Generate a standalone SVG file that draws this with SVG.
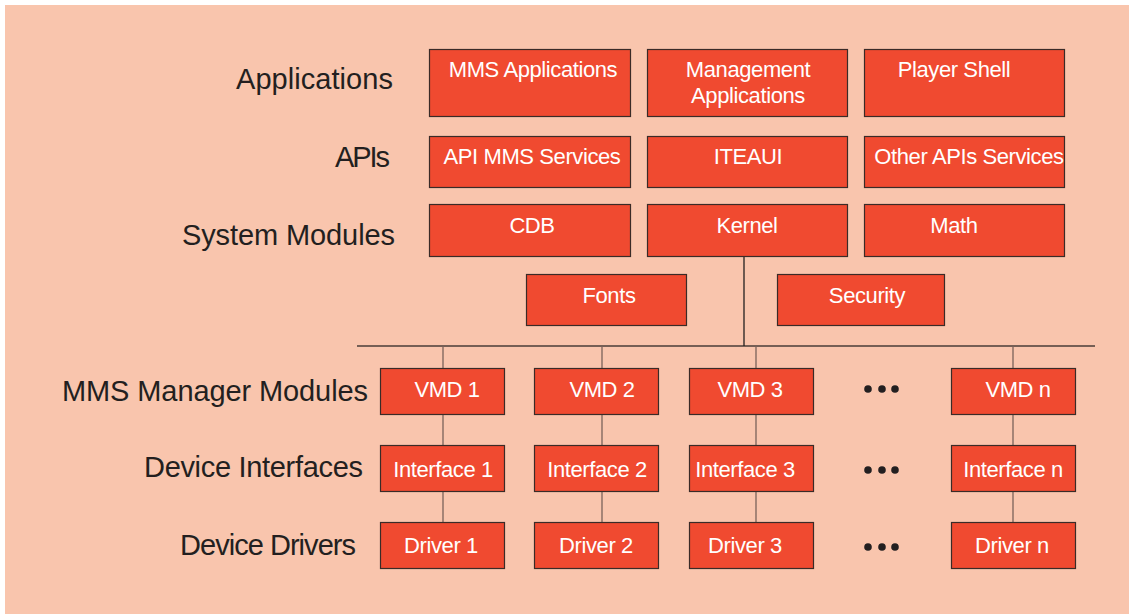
<svg xmlns="http://www.w3.org/2000/svg" width="1129" height="615" viewBox="0 0 1129 615">
<style>
.box{fill:#f04a30;stroke:#3a2b27;stroke-width:1.2}
.bt{fill:#ffffff;font-family:"Liberation Sans",Arial,sans-serif;font-size:22px;text-anchor:middle;letter-spacing:-0.4px}
.lbl{fill:#231f20;font-family:"Liberation Sans",Arial,sans-serif;font-size:29px;text-anchor:end}
.ln{stroke:#7a625a;stroke-width:1.3;fill:none}
.dot{fill:#231f20}
</style>
<rect x="0" y="0" width="1129" height="615" fill="#ffffff"/>
<rect x="5" y="5" width="1124" height="609" fill="#f9c5ad"/>
<g id="labels">
<text class="lbl" x="393" y="89" textLength="157">Applications</text>
<text class="lbl" x="390" y="167" textLength="55">APIs</text>
<text class="lbl" x="395" y="245" textLength="213">System Modules</text>
<text class="lbl" x="368" y="401" textLength="306">MMS Manager Modules</text>
<text class="lbl" x="363" y="477" textLength="219">Device Interfaces</text>
<text class="lbl" x="356" y="555" textLength="176">Device Drivers</text>
</g>
<g id="connectors">
<line class="ln" x1="357" y1="346" x2="1095" y2="346" style="stroke:#4a3d39"/>
<line class="ln" x1="744" y1="257" x2="744" y2="346" style="stroke:#231f20"/>
<line class="ln" x1="443" y1="346" x2="443" y2="368"/>
<line class="ln" x1="602" y1="346" x2="602" y2="368"/>
<line class="ln" x1="756" y1="346" x2="756" y2="368"/>
<line class="ln" x1="1013" y1="346" x2="1013" y2="368"/>
<line class="ln" x1="443" y1="414" x2="443" y2="445"/>
<line class="ln" x1="602" y1="414" x2="602" y2="445"/>
<line class="ln" x1="756" y1="414" x2="756" y2="445"/>
<line class="ln" x1="1013" y1="414" x2="1013" y2="445"/>
<line class="ln" x1="443" y1="492" x2="443" y2="522"/>
<line class="ln" x1="602" y1="492" x2="602" y2="522"/>
<line class="ln" x1="756" y1="492" x2="756" y2="522"/>
<line class="ln" x1="1013" y1="492" x2="1013" y2="522"/>
</g>
<g id="mms-applications"><rect class="box" x="429.5" y="49.5" width="201" height="67"/><text class="bt" x="533" y="77">MMS Applications</text></g>
<g id="management-applications"><rect class="box" x="647.5" y="49.5" width="200" height="67"/><text class="bt" x="748" y="77">Management</text><text class="bt" x="748" y="103">Applications</text></g>
<g id="player-shell"><rect class="box" x="864.5" y="49.5" width="200" height="67"/><text class="bt" x="954" y="77">Player Shell</text></g>
<g id="api-mms-services"><rect class="box" x="429.5" y="136.5" width="201" height="51"/><text class="bt" x="532" y="164">API MMS Services</text></g>
<g id="iteaui"><rect class="box" x="647.5" y="136.5" width="200" height="51"/><text class="bt" x="748" y="164">ITEAUI</text></g>
<g id="other-apis-services"><rect class="box" x="864.5" y="136.5" width="200" height="51"/><text class="bt" x="969" y="164">Other APIs Services</text></g>
<g id="cdb"><rect class="box" x="429.5" y="204.5" width="201" height="52"/><text class="bt" x="532" y="233">CDB</text></g>
<g id="kernel"><rect class="box" x="647.5" y="204.5" width="200" height="52"/><text class="bt" x="747" y="233">Kernel</text></g>
<g id="math"><rect class="box" x="864.5" y="204.5" width="200" height="52"/><text class="bt" x="954" y="233">Math</text></g>
<g id="fonts"><rect class="box" x="526.5" y="274.5" width="160" height="51"/><text class="bt" x="609" y="303">Fonts</text></g>
<g id="security"><rect class="box" x="777.5" y="274.5" width="167" height="51"/><text class="bt" x="867" y="303">Security</text></g>
<g id="vmd1"><rect class="box" x="380.5" y="368.5" width="124" height="46"/><text class="bt" x="447" y="397">VMD 1</text></g>
<g id="vmd2"><rect class="box" x="534.5" y="368.5" width="124" height="46"/><text class="bt" x="602" y="397">VMD 2</text></g>
<g id="vmd3"><rect class="box" x="689.5" y="368.5" width="124" height="46"/><text class="bt" x="750" y="397">VMD 3</text></g>
<g id="vmdn"><rect class="box" x="951.5" y="368.5" width="124" height="46"/><text class="bt" x="1018" y="397">VMD n</text></g>
<g id="interface1"><rect class="box" x="380.5" y="445.5" width="124" height="46"/><text class="bt" x="443" y="477">Interface 1</text></g>
<g id="interface2"><rect class="box" x="534.5" y="445.5" width="124" height="46"/><text class="bt" x="597" y="477">Interface 2</text></g>
<g id="interface3"><rect class="box" x="689.5" y="445.5" width="124" height="46"/><text class="bt" x="745" y="477">Interface 3</text></g>
<g id="interfacen"><rect class="box" x="951.5" y="445.5" width="124" height="46"/><text class="bt" x="1013" y="477">Interface n</text></g>
<g id="driver1"><rect class="box" x="380.5" y="522.5" width="124" height="46"/><text class="bt" x="441" y="553">Driver 1</text></g>
<g id="driver2"><rect class="box" x="534.5" y="522.5" width="124" height="46"/><text class="bt" x="596" y="553">Driver 2</text></g>
<g id="driver3"><rect class="box" x="689.5" y="522.5" width="124" height="46"/><text class="bt" x="745" y="553">Driver 3</text></g>
<g id="drivern"><rect class="box" x="951.5" y="522.5" width="124" height="46"/><text class="bt" x="1012" y="553">Driver n</text></g>
<g id="ellipses">
<circle class="dot" cx="868" cy="389" r="3.8"/><circle class="dot" cx="882" cy="389" r="3.8"/><circle class="dot" cx="895" cy="389" r="3.8"/>
<circle class="dot" cx="868" cy="470" r="3.8"/><circle class="dot" cx="882" cy="470" r="3.8"/><circle class="dot" cx="895" cy="470" r="3.8"/>
<circle class="dot" cx="868" cy="547" r="3.8"/><circle class="dot" cx="882" cy="547" r="3.8"/><circle class="dot" cx="895" cy="547" r="3.8"/>
</g>
</svg>
